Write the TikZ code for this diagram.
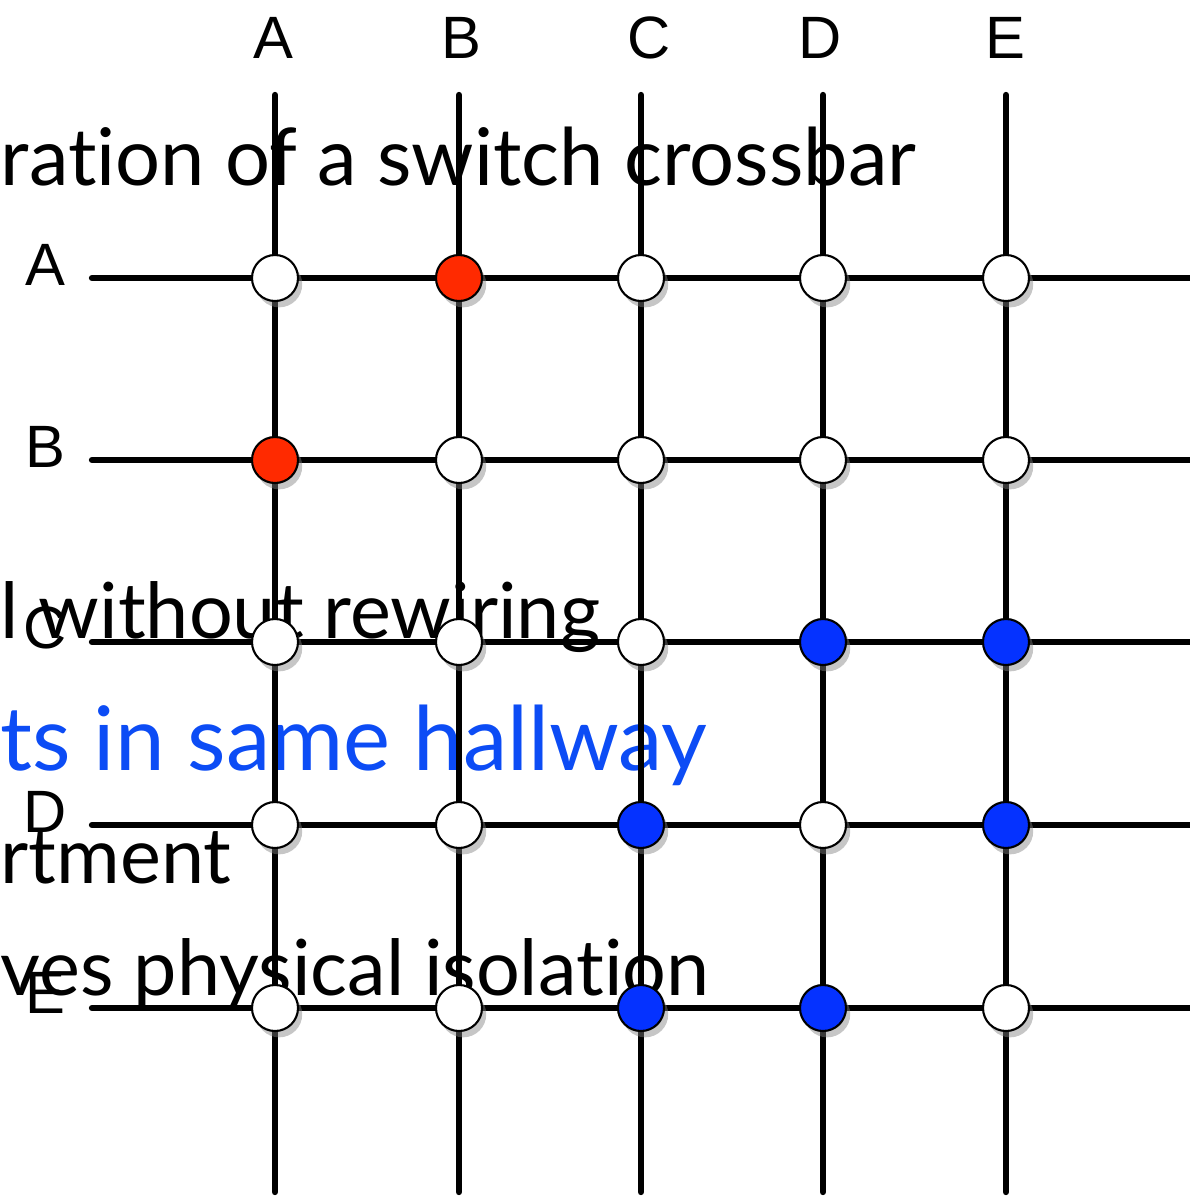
\documentclass[tikz,border=0pt]{standalone}
\usepackage{fontspec}
\setmainfont{Liberation Sans}
\newfontfamily\slidefont[Ligatures=NoCommon]{Lato}
\usetikzlibrary{shadows}
\definecolor{swred}{RGB}{255,42,0}
\definecolor{swblue}{RGB}{5,50,255}
\definecolor{slideblue}{RGB}{12,76,245}
\begin{document}
\begin{tikzpicture}[
  x=0.01cm, y=-0.01cm,
  wire/.style={line width=1.8pt, line cap=round},
  lbl/.style={inner sep=0, font=\fontsize{17}{17}\selectfont},
  slide/.style={anchor=base west, inner sep=0,
                font=\slidefont\fontsize{22}{22}\selectfont},
  xpt/.style={circle, draw, line width=0.6pt, minimum size=4.6mm, inner sep=0,
              fill=white,
              drop shadow={shadow xshift=1.2pt, shadow yshift=-1.8pt, opacity=0.45}},
  redpt/.style={xpt, fill=swred},
  bluept/.style={xpt, fill=swblue}
]
\useasboundingbox (0,0) rectangle (1190,1196);

% labels
\foreach \n/\lx in {A/273,B/461,C/649,D/820,E/1005}
  \node[lbl] (col\n) at (\lx,38) {\n};
\foreach \n/\ly in {A/265,B/447,C/628,D/812,E/993}
  \node[lbl] (row\n) at (45,\ly) {\n};

% slide text behind the crossbar
\node[slide, font=\slidefont\fontsize{22.6}{22.6}\selectfont] (t1)
  at (0,185) {ration of a switch crossbar};
\node[slide] (t2) at (0,638) {l without rewiring};
\node[slide, text=slideblue, font=\slidefont\fontsize{25.3}{25.3}\selectfont] (t3)
  at (0,770) {ts in same hallway};
\node[slide] (t4) at (0,883) {rtment};
\node[slide] (t5) at (0,995) {ves physical isolation};

% wires
\foreach \n/\cx in {A/275,B/459,C/641,D/823,E/1006} {
  \coordinate (top\n) at (\cx,95);
  \coordinate (bot\n) at (\cx,1192);
}
\foreach \n/\ry in {A/278,B/460,C/642,D/825,E/1008} {
  \coordinate (lft\n) at (92,\ry);
  \coordinate (rgt\n) at (1196,\ry);
}
\foreach \n in {A,B,C,D,E} {
  \draw[wire] (top\n) -- (bot\n);
  \draw[wire] (lft\n) -- (rgt\n);
}

% crosspoints
\foreach \r/\c/\st in {A/A/xpt,A/B/redpt,A/C/xpt,A/D/xpt,A/E/xpt,
                       B/A/redpt,B/B/xpt,B/C/xpt,B/D/xpt,B/E/xpt,
                       C/A/xpt,C/B/xpt,C/C/xpt,C/D/bluept,C/E/bluept,
                       D/A/xpt,D/B/xpt,D/C/bluept,D/D/xpt,D/E/bluept,
                       E/A/xpt,E/B/xpt,E/C/bluept,E/D/bluept,E/E/xpt}
  \node[style=\st] (x\r\c) at (top\c |- lft\r) {};
\end{tikzpicture}
\end{document}
